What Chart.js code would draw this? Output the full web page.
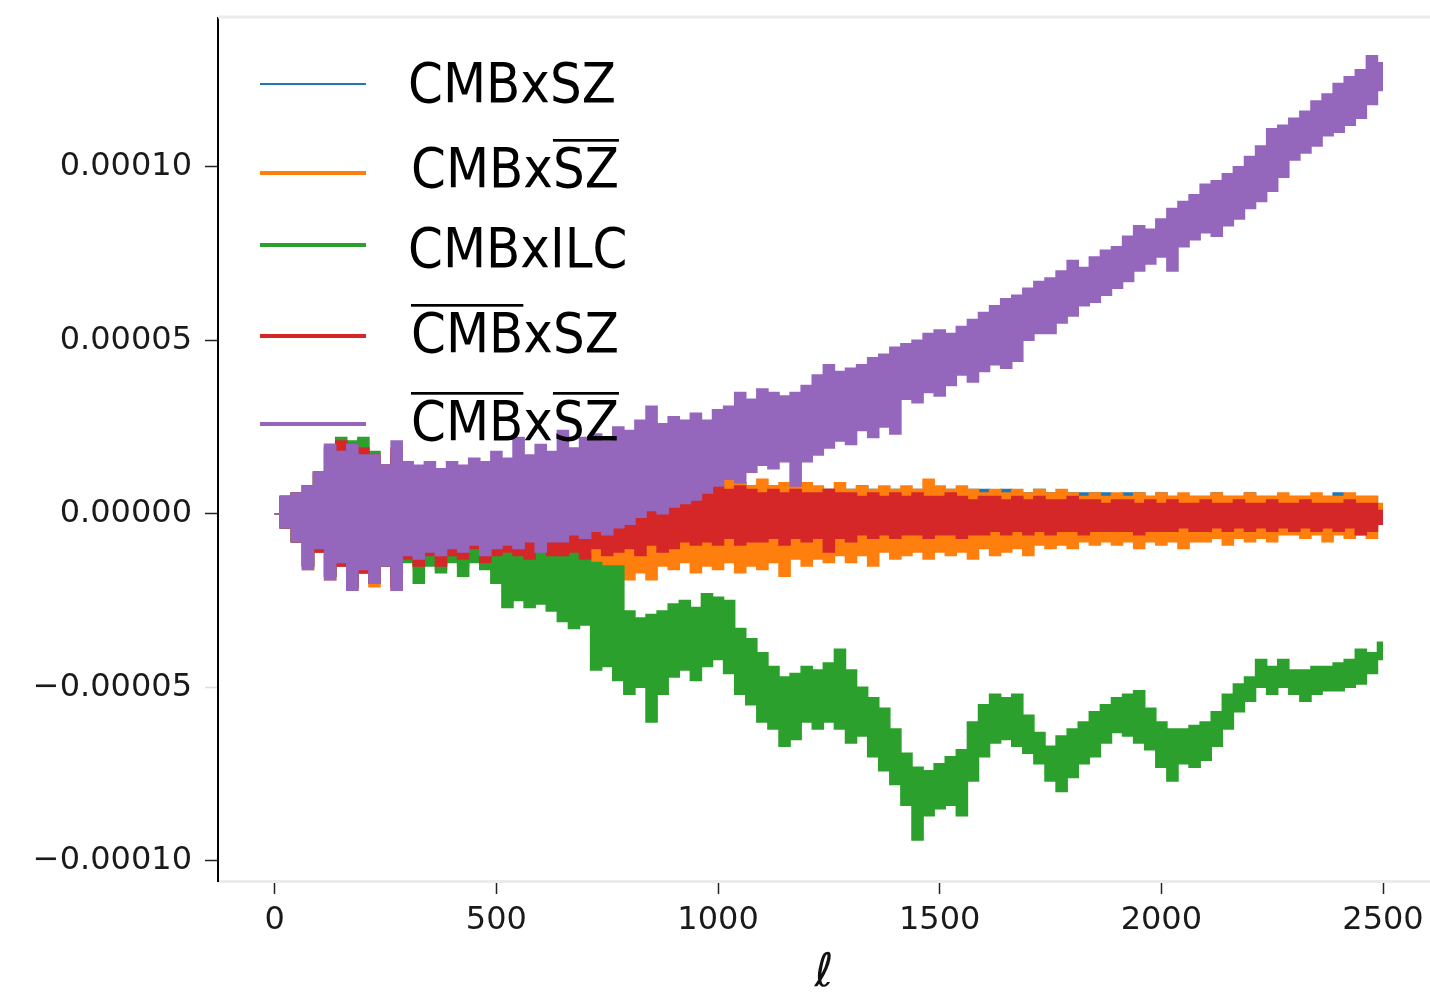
<!DOCTYPE html>
<html lang="en">
<head>
    <meta charset="UTF-8">
    <title>CMB x SZ cross spectra</title>
    <script src="https://cdn.jsdelivr.net/npm/chart.js@4"></script>
    <style>
        html, body { margin: 0; padding: 0; background: #fff; }
        #wrap { width: 1430px; height: 997px; }
    </style>
</head>
<body>

<div id="wrap"><canvas id="specChart" width="1430" height="997"></canvas></div>

<script>
    // multipole sampling step and axis ticks
    const ellStep = 25;
    const xTicks = [0, 500, 1000, 1500, 2000, 2500];
    const yTicks = [-0.0001, -0.00005, 0, 0.00005, 0.0001];
    const yUnit = 1e-6; // envelope values below are in units of 1e-6

    // series labels, {..} = overlined part
    const seriesNames = ['CMBxSZ', 'CMBx{SZ}', 'CMBxILC', '{CMB}xSZ', '{CMB}x{SZ}'];
    const seriesColors = ['#1f77b4', '#ff7f0e', '#2ca02c', '#d62728', '#9467bd'];

    // upper / lower envelope of each noisy curve, one value every 25 in ell (0..2500)
    const blueHi = [0, 5, 6, 8, 12, 19, 20, 20, 18, 17,
        14, 18, 14, 13, 13, 12, 12, 11, 10, 10,
        9, 10, 9, 10, 8, 9, 10, 9, 11, 9,
        9, 10, 9, 8, 9, 9, 10, 9, 8, 9,
        9, 8, 9, 8, 8, 8, 8, 7, 8, 7,
        7, 7, 7, 8, 7, 7, 7, 7, 7, 6,
        7, 7, 6, 7, 7, 6, 7, 6, 6, 7,
        6, 6, 6, 6, 6, 6, 5, 6, 6, 5,
        6, 5, 5, 5, 5, 6, 5, 5, 6, 5,
        5, 5, 5, 5, 5, 5, 6, 5, 5, 5,
        2];
    const blueLo = [0, -4, -8, -15, -11, -18, -15, -21, -17, -20,
        -15, -21, -13, -15, -12, -14, -12, -13, -10, -13,
        -11, -10, -11, -12, -9, -11, -11, -10, -12, -9,
        -11, -10, -9, -11, -8, -10, -9, -8, -7, -8,
        -7, -8, -6, -8, -7, -7, -6, -8, -6, -7,
        -6, -7, -5, -6, -5, -5, -5, -6, -5, -5,
        -5, -6, -5, -4, -5, -4, -5, -4, -4, -5,
        -4, -4, -4, -5, -4, -4, -4, -5, -4, -4,
        -3, -4, -4, -3, -4, -4, -3, -4, -3, -4,
        -3, -4, -3, -4, -3, -4, -3, -5, -4, -4,
        -2];
    const orangeHi = [0, 5, 6, 8, 12, 19, 20, 19, 18, 16,
        13, 18, 14, 12, 12, 11, 11, 10, 10, 9,
        9, 10, 9, 10, 9, 10, 11, 9, 10, 11,
        9, 10, 11, 9, 10, 9, 10, 11, 9, 10,
        9, 10, 9, 8, 10, 8, 9, 8, 9, 8,
        7, 9, 7, 8, 7, 8, 7, 8, 7, 10,
        8, 7, 8, 7, 6, 7, 6, 7, 6, 7,
        6, 7, 6, 5, 6, 5, 6, 5, 6, 5,
        6, 5, 6, 5, 5, 6, 5, 5, 6, 5,
        5, 6, 5, 5, 6, 5, 5, 6, 5, 5,
        3];
    const orangeLo = [0, -4, -8, -16, -11, -19, -15, -22, -17, -21,
        -15, -22, -13, -16, -13, -16, -13, -15, -12, -15,
        -14, -13, -15, -14, -16, -15, -19, -16, -19, -17,
        -20, -16, -19, -17, -19, -15, -16, -14, -17, -15,
        -16, -14, -17, -15, -16, -14, -18, -13, -15, -13,
        -14, -12, -14, -12, -15, -11, -13, -12, -11, -13,
        -11, -12, -11, -13, -10, -12, -11, -10, -12, -9,
        -10, -9, -10, -8, -9, -8, -9, -8, -10, -8,
        -9, -8, -10, -8, -8, -7, -9, -7, -8, -7,
        -8, -6, -6, -7, -6, -8, -6, -7, -6, -7,
        -2];
    const greenHi = [0, 5, 6, 8, 11, 19, 22, 21, 22, 18,
        13, 15, 12, 10, 8, 6, 5, 3, -3, -5,
        -4, -6, -5, -7, -4, -8, -10, -11, -12, -14,
        -15, -15, -28, -30, -29, -28, -26, -25, -27, -23,
        -24, -25, -33, -36, -40, -44, -47, -46, -44, -45,
        -43, -39, -45, -50, -53, -56, -62, -69, -73, -74,
        -72, -70, -68, -60, -55, -52, -53, -52, -58, -63,
        -67, -64, -62, -60, -57, -55, -53, -52, -51, -56,
        -60, -62, -62, -61, -60, -57, -52, -49, -47, -42,
        -44, -42, -45, -45, -44, -44, -43, -42, -39, -40,
        -37];
    const greenLo = [0, -4, -8, -15, -10, -18, -14, -21, -17, -20,
        -15, -18, -14, -20, -15, -17, -14, -18, -14, -16,
        -20, -27, -25, -27, -26, -28, -31, -33, -32, -45,
        -44, -48, -52, -50, -60, -52, -47, -45, -48, -44,
        -42, -46, -52, -55, -60, -62, -67, -65, -60, -62,
        -60, -62, -66, -64, -70, -74, -78, -84, -94, -87,
        -85, -84, -87, -77, -70, -66, -65, -67, -69, -72,
        -77, -80, -76, -72, -70, -66, -63, -64, -66, -68,
        -73, -77, -72, -73, -71, -67, -62, -57, -54, -50,
        -52, -50, -52, -54, -52, -51, -51, -50, -49, -46,
        -42];
    const redHi = [0, 5, 6, 8, 12, 20, 21, 20, 19, 17,
        14, 19, 14, 13, 13, 12, 12, 11, 10, 9,
        8, 9, 8, 9, 7, 8, 9, 8, 10, 9,
        8, 9, 8, 7, 8, 7, 9, 8, 7, 8,
        8, 7, 8, 7, 6, 7, 6, 7, 6, 6,
        7, 6, 6, 5, 6, 5, 6, 5, 6, 5,
        5, 6, 5, 4, 5, 5, 4, 5, 4, 5,
        4, 4, 5, 4, 4, 3, 4, 4, 3, 4,
        3, 4, 3, 3, 4, 3, 3, 4, 3, 3,
        4, 3, 3, 4, 3, 3, 3, 4, 3, 3,
        1];
    const redLo = [0, -4, -8, -15, -11, -18, -15, -21, -17, -20,
        -15, -21, -13, -15, -12, -15, -12, -13, -10, -14,
        -12, -11, -12, -13, -10, -12, -12, -11, -13, -10,
        -12, -11, -10, -12, -9, -11, -10, -8, -9, -8,
        -9, -7, -9, -8, -8, -7, -9, -7, -8, -7,
        -11, -7, -8, -6, -7, -6, -7, -6, -6, -7,
        -6, -6, -7, -6, -6, -5, -6, -5, -6, -5,
        -6, -5, -5, -6, -5, -5, -5, -5, -6, -5,
        -5, -5, -4, -5, -5, -4, -5, -4, -5, -4,
        -5, -4, -5, -4, -5, -4, -5, -4, -6, -5,
        -3];
    const purpleHi = [0, 5, 6, 8, 12, 20, 18, 20, 17, 17,
        14, 21, 15, 14, 15, 13, 15, 14, 16, 15,
        18, 16, 22, 17, 20, 18, 24, 19, 22, 23,
        21, 25, 24, 27, 31, 26, 28, 27, 29, 27,
        30, 31, 35, 33, 36, 35, 34, 35, 37, 40,
        43, 41, 42, 43, 45, 46, 48, 49, 50, 52,
        53, 52, 54, 56, 58, 60, 62, 63, 65, 67,
        68, 70, 73, 71, 74, 76, 77, 80, 83, 82,
        85, 88, 90, 92, 95, 96, 98, 100, 103, 106,
        111, 112, 114, 116, 119, 121, 124, 126, 128, 132,
        130];
    const purpleLo = [0, -4, -8, -16, -10, -19, -14, -22, -16, -20,
        -15, -22, -12, -13, -11, -12, -10, -11, -9, -12,
        -10, -9, -10, -8, -11, -8, -8, -6, -7, -5,
        -6, -4, -3, -1, 1, 0, 2, 3, 4, 6,
        8, 10, 9, 12, 14, 13, 15, 8, 15, 17,
        19, 21, 20, 24, 22, 25, 23, 33, 32, 35,
        34, 37, 40, 38, 41, 43, 42, 44, 50, 52,
        52, 55, 57, 60, 61, 63, 65, 67, 70, 72,
        74, 70, 77, 79, 81, 80, 83, 85, 88, 90,
        93, 97, 102, 104, 106, 109, 110, 112, 114, 118,
        122];

    const envelopes = [
        [blueHi, blueLo],
        [orangeHi, orangeLo],
        [greenHi, greenLo],
        [redHi, redLo],
        [purpleHi, purpleLo]
    ];

    const ell = purpleHi.map((_, i) => i * ellStep);
    function toPoints(arr) {
        return arr.map((v, i) => ({ x: ell[i], y: v * yUnit }));
    }

    // each curve = upper edge filled down to its lower edge; purple ends up on top
    const datasets = [];
    envelopes.forEach(([hi, lo], k) => {
        const base = {
            borderColor: seriesColors[k],
            backgroundColor: seriesColors[k],
            borderWidth: 1.5,
            pointRadius: 0,
            stepped: 'middle',
            order: envelopes.length - 1 - k
        };
        datasets.push(Object.assign({}, base, { label: seriesNames[k], data: toPoints(hi), fill: '+1' }));
        datasets.push(Object.assign({}, base, { label: seriesNames[k] + ' (low)', data: toPoints(lo), fill: false }));
    });

    function fmtY(v) {
        if (Math.abs(v) < 1e-12) return '0.00000';
        return (v < 0 ? '\u2212' : '') + Math.abs(v).toFixed(5);
    }

    // legend with overlined names, drawn over the curves
    const legendLineY = [84, 173, 245, 336, 424];
    const legendBaseY = [102, 187, 267, 352, 440];
    const overlineLegend = {
        id: 'overlineLegend',
        afterDatasetsDraw(chart) {
            const c = chart.ctx;
            c.save();
            seriesNames.forEach((name, k) => {
                c.strokeStyle = seriesColors[k];
                c.lineWidth = k === 0 ? 2 : 4;
                c.beginPath();
                c.moveTo(260, legendLineY[k]);
                c.lineTo(366, legendLineY[k]);
                c.stroke();

                c.font = '50px "DejaVu Sans"';
                c.fillStyle = '#000';
                c.textBaseline = 'alphabetic';
                let x = name.includes('{') ? 411 : 408;
                const parts = name.split(/(\{[^}]*\})/).filter(Boolean);
                parts.forEach(p => {
                    const bar = p.startsWith('{');
                    const t = bar ? p.slice(1, -1) : p;
                    const w = c.measureText(t).width;
                    c.save();
                    c.translate(x, legendBaseY[k]);
                    c.scale(1, 1.09);
                    c.fillText(t, 0, 0);
                    c.restore();
                    if (bar) c.fillRect(x, legendBaseY[k] - 48, w, 2.7);
                    x += w;
                });
            });
            c.restore();
        }
    };

    // faint top frame line
    const topFrame = {
        id: 'topFrame',
        afterDraw(chart) {
            const a = chart.chartArea, c = chart.ctx;
            c.save();
            c.strokeStyle = '#ebebeb';
            c.lineWidth = 3;
            c.beginPath();
            c.moveTo(a.left, a.top - 1);
            c.lineTo(a.right, a.top - 1);
            c.stroke();
            c.restore();
        }
    };

    const ctx = document.getElementById('specChart').getContext('2d');
    window.specChart = new Chart(ctx, {
        type: 'line',
        data: { datasets: datasets },
        plugins: [overlineLegend, topFrame],
        options: {
            responsive: false,
            animation: false,
            events: [],
            devicePixelRatio: 1,
            layout: { padding: { top: 18, left: 0, right: 0, bottom: 0 } },
            plugins: {
                legend: { display: false },
                tooltip: { enabled: false },
                filler: { propagate: false }
            },
            scales: {
                x: {
                    type: 'linear',
                    min: -128,
                    max: 2606,
                    afterBuildTicks: s => { s.ticks = xTicks.map(v => ({ value: v })); },
                    afterFit: s => { s.height = 116; s.paddingLeft = 0; s.paddingRight = 0; },
                    border: { display: true, color: '#ebebeb', width: 3 },
                    grid: { drawOnChartArea: false, drawTicks: true, tickLength: 13, color: '#222', tickColor: '#222', tickWidth: 1.5 },
                    ticks: {
                        font: { family: 'DejaVu Sans', size: 32 },
                        color: '#1a1a1a',
                        padding: 7,
                        maxRotation: 0,
                        autoSkip: false,
                        callback: v => String(v)
                    },
                    title: {
                        display: true,
                        text: '\u2113',
                        color: '#111',
                        font: { family: 'DejaVu Sans', size: 46, style: 'italic', lineHeight: 1 },
                        padding: { top: 0, bottom: 0 }
                    }
                },
                y: {
                    type: 'linear',
                    min: -105.8e-6,
                    max: 142.9e-6,
                    afterBuildTicks: s => { s.ticks = yTicks.map(v => ({ value: v })); },
                    afterFit: s => { s.width = 218; s.paddingTop = 0; s.paddingBottom = 0; },
                    border: { display: true, color: '#000', width: 2 },
                    grid: {
                        drawOnChartArea: false,
                        drawTicks: true,
                        tickLength: 13,
                        color: '#222',
                        tickColor: c => (c.tick && c.tick.value === -0.00005 ? '#dddddd' : '#222'),
                        tickWidth: 1.5
                    },
                    ticks: {
                        font: { family: 'DejaVu Sans', size: 32 },
                        color: '#1a1a1a',
                        padding: 13,
                        autoSkip: false,
                        callback: v => fmtY(v)
                    }
                }
            }
        }
    });
</script>

</body>
</html>
